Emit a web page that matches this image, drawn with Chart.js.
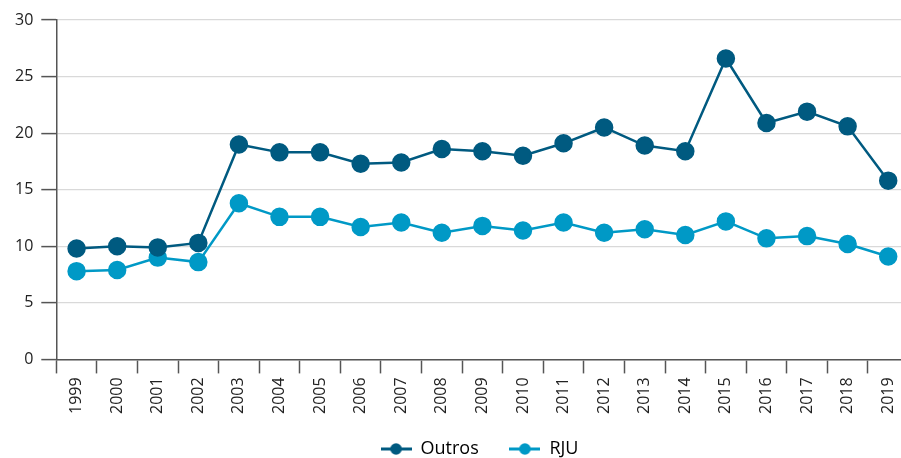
<!DOCTYPE html>
<html><head><meta charset="utf-8">
<script src="https://cdn.jsdelivr.net/npm/chart.js@4/dist/chart.umd.min.js"></script>
<style>html,body{margin:0;padding:0;background:#fff;overflow:hidden;width:901px;height:458px}#w{width:919px;height:458px;position:relative}</style>
</head><body><div id="w"><canvas id="c"></canvas></div>
<script>
const years = ['1999','2000','2001','2002','2003','2004','2005','2006','2007','2008','2009','2010','2011','2012','2013','2014','2015','2016','2017','2018','2019'];
const outros = [9.8,10.0,9.9,10.3,19.0,18.3,18.3,17.3,17.4,18.6,18.4,18.0,19.1,20.5,18.9,18.4,26.6,20.9,21.9,20.6,15.8];
const rju = [7.8,7.9,9.0,8.6,13.8,12.6,12.6,11.7,12.1,11.2,11.8,11.4,12.1,11.2,11.5,11.0,12.2,10.7,10.9,10.2,9.1];
const yTicks = [0,5,10,15,20,25,30];
const C1 = '#005a80', C2 = '#0099c6';
const FONT = "'Open Sans', 'Noto Sans', sans-serif";
function marker(color){
  const c = document.createElement('canvas'); c.width = 31; c.height = 14;
  const g = c.getContext('2d');
  g.strokeStyle = color; g.lineWidth = 3;
  g.beginPath(); g.moveTo(0,7); g.lineTo(31,7); g.stroke();
  g.fillStyle = color; g.beginPath(); g.arc(15.5,7,5.8,0,Math.PI*2); g.fill();
  return c;
}
const m1 = marker(C1), m2 = marker(C2);
const shiftLegend = { id: 'shiftLegend', afterLayout(chart){ if (chart.legend){ chart.legend.left += 17; chart.legend.right += 17; chart.legend.top += 10; chart.legend.bottom += 10; } } };
new Chart(document.getElementById('c'), {
  type: 'line',
  data: { labels: years, datasets: [
    {label:'Outros', data: outros, borderColor:C1, backgroundColor:C1, pointBackgroundColor:C1, pointBorderColor:C1, borderWidth:2.5, pointRadius:8, pointHoverRadius:8, tension:0},
    {label:'RJU', data: rju, borderColor:C2, backgroundColor:C2, pointBackgroundColor:C2, pointBorderColor:C2, borderWidth:2.5, pointRadius:8, pointHoverRadius:8, tension:0}
  ]},
  options: {
    responsive: true, maintainAspectRatio: false, animation: false,
    layout: { padding: { top: 20, right: 1, left: 7, bottom: 0 } },
    plugins: {
      tooltip: { enabled: false },
      legend: { position: 'bottom', labels: {
        color: '#222', font: { family: FONT, size: 18 }, usePointStyle: true, pointStyleWidth: 31, padding: 12,
        generateLabels: (ch) => ch.data.datasets.map((d,i) => ({ text: d.label + (i===0 ? '    ' : ''), pointStyle: i===0?m1:m2, fillStyle: d.borderColor, strokeStyle: d.borderColor, lineWidth: 0, datasetIndex: i, hidden: false }))
      }}
    },
    scales: {
      x: {
        offset: true,
        grid: { offset: true, drawOnChartArea: false, tickLength: 14, tickColor: '#555', tickWidth: 1.5 },
        border: { color: '#555', width: 1.5 },
        ticks: { minRotation: 90, maxRotation: 90, color: '#222', font: { family: FONT, size: 16 }, padding: 4 }
      },
      y: {
        min: 0, max: 30,
        afterBuildTicks: (ax) => { ax.ticks = yTicks.map(v => ({ value: v })); },
        grid: { color: '#d9d9d9', lineWidth: 1.2, tickLength: 15, tickColor: '#555', tickWidth: 1.5 },
        border: { color: '#555', width: 1.5 },
        ticks: { color: '#222', font: { family: FONT, size: 16 }, padding: 8 }
      }
    }
  },
  plugins: [shiftLegend]
});
</script></body></html>
